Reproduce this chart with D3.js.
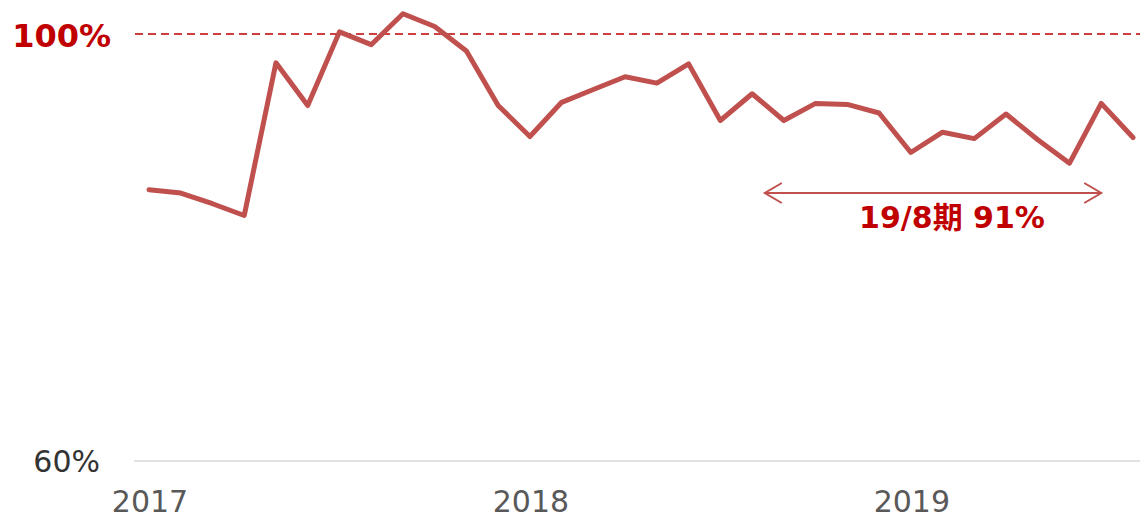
<!DOCTYPE html>
<html lang="ja">
<head>
<meta charset="utf-8">
<script src="https://d3js.org/d3.v7.min.js"></script>
<style>
  body { margin: 0; background: #fff; }
  svg { display: block; font-family: "DejaVu Sans", Verdana, "Noto Sans CJK JP", sans-serif; }
</style>
</head>
<body>
<svg id="chart" width="1140" height="520"></svg>
<script>
// monthly ratio, Jan 2017 .. Aug 2019 (%)
const values = [85.4, 85.1, 84.1, 83.0, 97.3, 93.3, 100.2, 99.0, 101.9, 100.7, 98.4, 93.3,
                90.4, 93.6, 94.8, 96.0, 95.4, 97.2, 91.9, 94.4, 91.9, 93.5, 93.4, 92.6,
                88.9, 90.8, 90.2, 92.5, 90.1, 87.9, 93.5, 90.3];
const yearTicks = [0, 12, 24];
const yearLabels = ["2017", "2018", "2019"];
const yMin = 60, yTarget = 100;
const arrowSpan = [19.4, 30];
const arrowLabel = "19/8期 91%";

const width = 1140, height = 520;
const svg = d3.select("#chart");

const x = d3.scaleLinear().domain([0, values.length - 1]).range([149, 1133]);
const y = d3.scaleLinear().domain([yMin, yTarget]).range([461, 34]);

// baseline
svg.append("line")
    .attr("x1", 134).attr("x2", 1140)
    .attr("y1", y(yMin)).attr("y2", y(yMin))
    .attr("stroke", "#d9d9d9").attr("stroke-width", 1.5);

// 100% target line
svg.append("line")
    .attr("x1", 135).attr("x2", 1140)
    .attr("y1", y(yTarget)).attr("y2", y(yTarget))
    .attr("stroke", "#c00000").attr("stroke-width", 1.5)
    .attr("stroke-dasharray", "8,5");

// y labels
svg.append("text")
    .attr("x", 111).attr("y", y(yTarget) + 13)
    .attr("text-anchor", "end")
    .attr("font-size", 32).attr("font-weight", "bold")
    .attr("fill", "#c00000")
    .text(yTarget + "%");

svg.append("text")
    .attr("x", 100).attr("y", y(yMin) + 11)
    .attr("text-anchor", "end")
    .attr("font-size", 30)
    .attr("fill", "#333")
    .text(yMin + "%");

// x axis year labels
svg.selectAll(".year")
  .data(yearTicks)
  .join("text")
    .attr("class", "year")
    .attr("x", d => x(d) + 1)
    .attr("y", 512)
    .attr("text-anchor", "middle")
    .attr("font-size", 30)
    .attr("fill", "#595959")
    .text((d, i) => yearLabels[i]);

// the line
const line = d3.line()
    .x((d, i) => x(i))
    .y(d => y(d));

svg.append("path")
    .datum(values)
    .attr("d", line)
    .attr("fill", "none")
    .attr("stroke", "#c0504d")
    .attr("stroke-width", 5)
    .attr("stroke-linejoin", "round")
    .attr("stroke-linecap", "round");

// annotation arrow
const ay = 193;
const ax0 = x(arrowSpan[0]), ax1 = x(arrowSpan[1]);
const arrow = svg.append("g")
    .attr("fill", "none")
    .attr("stroke", "#c0504d")
    .attr("stroke-width", 2);
arrow.append("line").attr("x1", ax0).attr("x2", ax1).attr("y1", ay).attr("y2", ay);
arrow.append("path").attr("d", `M${ax0 + 17},${ay - 10}L${ax0},${ay}L${ax0 + 17},${ay + 10}`);
arrow.append("path").attr("d", `M${ax1 - 17},${ay - 10}L${ax1},${ay}L${ax1 - 17},${ay + 10}`);

svg.append("text")
    .attr("x", (ax0 + ax1) / 2 + 19).attr("y", 228)
    .attr("text-anchor", "middle")
    .attr("font-size", 30).attr("font-weight", "bold")
    .attr("fill", "#c00000")
    .text(arrowLabel);
</script>
</body>
</html>
